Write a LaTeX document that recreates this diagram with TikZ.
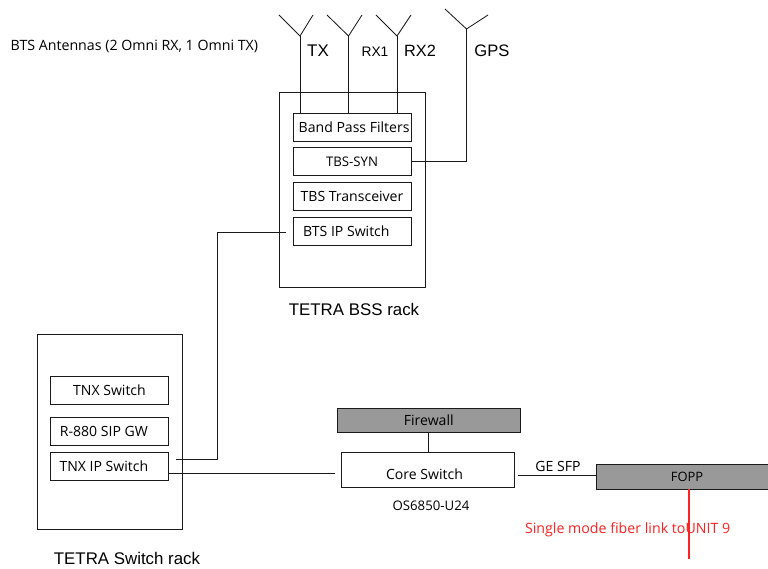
\documentclass[tikz,border=0pt]{standalone}
\usepackage{fontspec}
\setmainfont{Liberation Sans}
\newfontfamily\boxfont{Open Sans}
\usepackage{xcolor}
\usetikzlibrary{calc,positioning}
\definecolor{linec}{HTML}{1A1A1A}
\definecolor{greyc}{HTML}{999999}
\definecolor{redc}{HTML}{FF2020}
\newcommand{\boxsize}[1]{\boxfont\fontsize{#1}{11}\selectfont}
\tikzset{
  ln/.style={line width=0.6pt,linec},
  rack/.style={draw=linec,line width=0.6pt,minimum width=3.64cm,inner sep=0pt},
  unit/.style={draw=linec,line width=0.6pt,minimum width=2.95cm,minimum height=0.7cm,inner sep=0pt,font=\boxsize{10}},
  grey/.style={unit,fill=greyc},
  txt/.style={inner sep=0pt,font=\boxsize{10}},
  big/.style={inner sep=0pt,font=\fontsize{12}{14}\selectfont}
}
\begin{document}
\begin{tikzpicture}
\useasboundingbox (0,0) rectangle (19.2,14.2);
\clip (0,0) rectangle (19.2,14.2);
% racks
\node[rack,minimum height=4.875cm] (bss) at (8.8125,9.4625) {};
\node[rack,minimum height=4.86cm] (sw) at (2.75,3.406) {};
% units in the BSS rack
\node[unit] (band) at (8.8,11.025) {\kern3pt Band Pass Filters};
\node[unit,font=\boxsize{9.4}] (syn) at (8.8,10.1625) {TBS-SYN};
\node[unit] (trx) at (8.8,9.3) {TBS Transceiver};
\node[unit] (bts) at (8.8,8.425) {BTS IP Switch\kern8pt};
% units in the switch rack
\node[unit] (tnx) at (2.7375,4.45) {TNX Switch};
\node[unit] (sip) at (2.7375,3.4125) {R-880 SIP GW\kern8pt};
\node[unit] (ip) at (2.7375,2.55) {TNX IP Switch\kern8pt};
% core
\node[unit,minimum width=4.325cm,minimum height=0.875cm,text height=14pt,text depth=0pt] (core) at (10.7,2.4625) {Core Switch\kern5pt};
\node[grey,minimum width=4.5875cm,minimum height=0.6125cm] (fw) at (10.72,3.69) {Firewall};
\node[grey,minimum width=4.55cm,minimum height=0.625cm,font=\boxsize{9.2}] (fopp) at (17.175,2.2875) {FOPP};
% antennas
\foreach \n/\x/\l/\r in {TX/7.5/6.975/7.825,RXa/8.7125/8.175/9.05,RXb/9.925/9.4/10.275}{
  \coordinate (\n) at (\x,13.3);
  \draw[ln] (\l,13.825) -- (\n) -- (\r,13.825);
  \draw[ln] (\n) -- (\n |- band.north);
}
\coordinate (GPS) at (11.6625,13.475);
\draw[ln] (11.125,13.975) -- (GPS) -- (12.2,13.825);
\draw[ln] (GPS) |- (syn.east);
% links
\coordinate (btsend) at (7.15,8.4);
\coordinate (ipend) at (4.4,2.725);
\draw[ln] (btsend) -| (5.425,2.725) -- (ipend);
\draw[ln,shorten >=4.5pt] (ip.east |- 0,2.375) -- (core.west |- 0,2.375);
\draw[ln] (fw) -- (fw |- core.north);
\draw[ln,shorten <=2pt] (core.east |- 0,2.325) -- (fopp.west |- 0,2.325);
\coordinate (fibre) at (17.225,0.225);
\draw[line width=0.8pt,redc] (fibre |- fopp.south) -- (fibre);
% labels
\node[txt,font=\boxsize{10.1}] (ant) at (3.36,13.05) {BTS Antennas (2 Omni RX, 1 Omni TX)};
\node[big,font=\fontsize{12}{14}\selectfont] (ltx) at (7.95,12.925) {TX};
\node[big,font=\fontsize{9.8}{11}\selectfont] (lrxa) at (9.375,12.9) {RX1};
\node[big,font=\fontsize{11.6}{14}\selectfont] (lrxb) at (10.5,12.925) {RX2};
\node[big,font=\fontsize{11.8}{14}\selectfont] (lgps) at (12.3,12.925) {GPS};
\node[big] (lbss) at (8.85,6.475) {TETRA BSS rack};
\node[big] (lsw) at (3.175,0.25) {TETRA Switch rack};
\node[txt,font=\boxsize{9.4}] (los) at (10.775,1.55) {OS6850-U24};
\node[txt] (lge) at (13.95,2.55) {GE SFP};
\node[txt,text=redc,font=\boxsize{10.1}] (lred) at (15.69,0.95) {Single mode fiber link toUNIT 9};
\end{tikzpicture}
\end{document}
